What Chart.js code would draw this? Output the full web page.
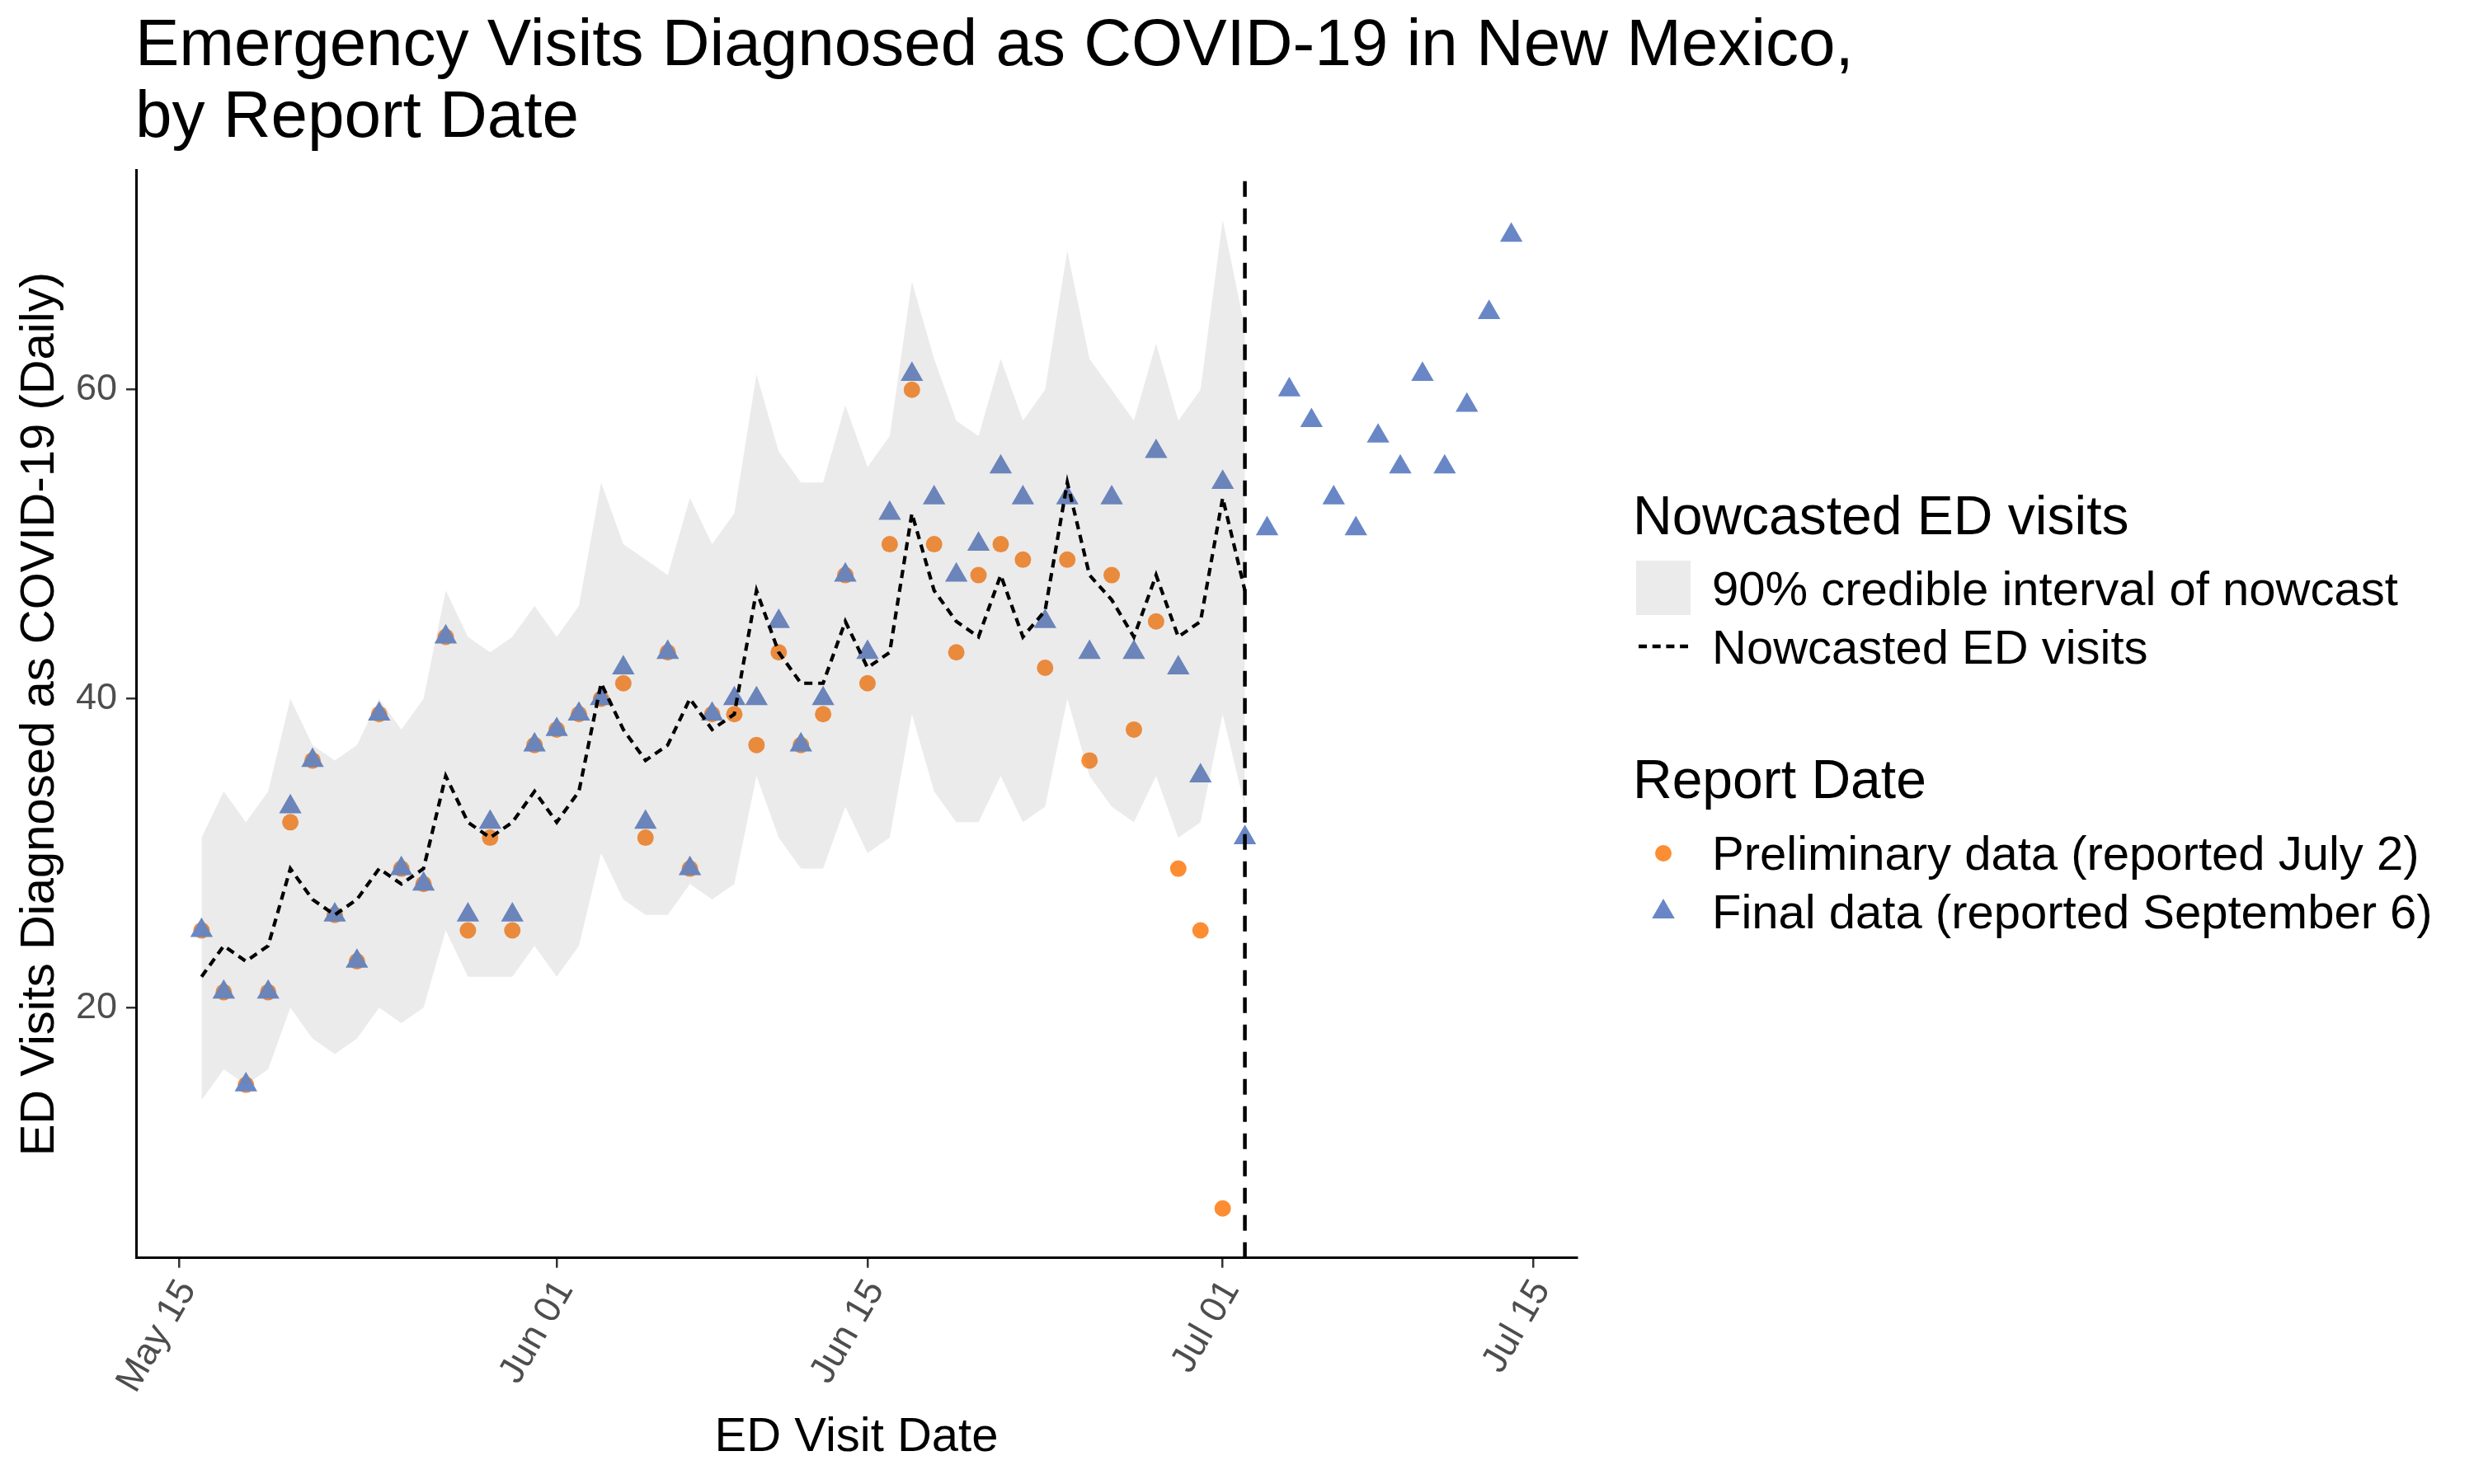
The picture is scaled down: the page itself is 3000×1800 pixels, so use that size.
<!DOCTYPE html>
<html>
<head>
<meta charset="utf-8">
<script src="https://cdn.jsdelivr.net/npm/chart.js@4.4.1/dist/chart.umd.min.js"></script>
<style>
html,body{margin:0;padding:0;background:#fff;}
#wrap{position:relative;width:3000px;height:1800px;overflow:hidden;font-family:"Liberation Sans",Arial,sans-serif;background:#fff;}
#c{position:absolute;left:0;top:0;}
.t{position:absolute;white-space:nowrap;color:#000;line-height:1;}
svg.k{position:absolute;left:0;top:0;overflow:visible;}
</style>
</head>
<body>
<div id="wrap">
<canvas id="c" width="3000" height="1800"></canvas>
<div class="t" style="left:164px;top:9px;font-size:80px;line-height:86.7px;">Emergency Visits Diagnosed as COVID-19 in New Mexico,<br>by Report Date</div>

<div class="t" style="left:1980px;top:591.5px;font-size:66px;">Nowcasted ED visits</div>
<div class="t" style="left:2076px;top:684.6px;font-size:58px;">90% credible interval of nowcast</div>
<div class="t" style="left:2076px;top:756px;font-size:58px;">Nowcasted ED visits</div>
<div class="t" style="left:1980px;top:911.5px;font-size:66px;">Report Date</div>
<div class="t" style="left:2076px;top:1005.7px;font-size:58px;">Preliminary data (reported July 2)</div>
<div class="t" style="left:2076px;top:1076.9px;font-size:58px;">Final data (reported September 6)</div>
<svg class="k" width="3000" height="1800">
  <rect x="1984" y="680" width="66" height="66" fill="#EBEBEB"/>
  <line x1="1987" y1="784" x2="2047" y2="784" stroke="#000" stroke-width="4.5" stroke-dasharray="10 6.7"/>
  <circle cx="2017" cy="1035" r="10" fill="#FD8D33"/>
  <polygon points="2017,1090.1 2030.8,1114 2003.2,1114" fill="#6987C6"/>
</svg>
</div>
<script>
// ---- data ----
const visitDates = [
 '2020-05-16','2020-05-17','2020-05-18','2020-05-19','2020-05-20','2020-05-21','2020-05-22','2020-05-23',
 '2020-05-24','2020-05-25','2020-05-26','2020-05-27','2020-05-28','2020-05-29','2020-05-30','2020-05-31',
 '2020-06-01','2020-06-02','2020-06-03','2020-06-04','2020-06-05','2020-06-06','2020-06-07','2020-06-08',
 '2020-06-09','2020-06-10','2020-06-11','2020-06-12','2020-06-13','2020-06-14','2020-06-15','2020-06-16',
 '2020-06-17','2020-06-18','2020-06-19','2020-06-20','2020-06-21','2020-06-22','2020-06-23','2020-06-24',
 '2020-06-25','2020-06-26','2020-06-27','2020-06-28','2020-06-29','2020-06-30','2020-07-01','2020-07-02',
 '2020-07-03','2020-07-04','2020-07-05','2020-07-06','2020-07-07','2020-07-08','2020-07-09','2020-07-10',
 '2020-07-11','2020-07-12','2020-07-13','2020-07-14'
];
const finalCounts = [25,21,15,21,33,36,26,23,39,29,28,44,26,32,26,37,38,39,40,42,32,43,29,39,40,40,45,37,40,48,
                     43,52,61,53,48,50,55,53,45,53,43,53,43,56,42,35,54,31,51,60,58,53,51,57,55,61,55,59,65,70];
const prelimCounts = [25,21,15,21,32,36,26,23,39,29,28,44,25,31,25,37,38,39,40,41,31,43,29,39,39,37,43,37,39,48,
                      41,50,60,50,43,48,50,49,42,49,36,48,38,45,29,25,7];
const nowcastMedian = [22,24,23,24,29,27,26,27,29,28,29,35,32,31,32,34,32,34,41,38,36,37,40,38,39,47,43,41,41,45,
                       42,43,52,47,45,44,48,44,45.7,54,48,46.4,44,48,44,45,53,47];
const ciUpper = [31,34,32,34,40,37,36,37,40,38,40,47,44,43,44,46,44,46,54,50,49,48,53,50,52,61,56,54,54,59,
                 55,57,67,62,58,57,62,58,60,69,62,60,58,63,58,60,71,64];
const ciLower = [14,16,15,16,20,18,17,18,20,19,20,25,22,22,22,24,22,24,30,27,26,26,28,27,28,35,31,29,29,33,
                 30,31,39,34,32,32,35,32,33,40,35,33,32,35,31,32,39,33];
const reportDate = '2020-07-02';
const originDate = '2020-05-15';
const xTickDates = ['2020-05-15','2020-06-01','2020-06-15','2020-07-01','2020-07-15'];
const xTickLabels = ['May 15','Jun 01','Jun 15','Jul 01','Jul 15'];
const yTickValues = [20,40,60];

// ---- helpers ----
const toDay = d => (Date.parse(d) - Date.parse(originDate)) / 864e5;
const pts = arr => arr.map((v,i) => ({x: toDay(visitDates[i]), y: v}));
const xTickDays = xTickDates.map(toDay);

const allX = visitDates.map(toDay);
const xLo = Math.min(...allX), xHi = Math.max(...allX);
const xPad = (xHi - xLo) * 0.05;
const allY = [].concat(finalCounts, prelimCounts, nowcastMedian, ciUpper, ciLower);
const yLo = Math.min(...allY), yHi = Math.max(...allY);
const yPad = (yHi - yLo) * 0.05;

const FONT = "'Liberation Sans', Arial, sans-serif";
Chart.defaults.font.family = FONT;

const vlinePlugin = {
  id: 'reportLine',
  afterDatasetsDraw(chart) {
    const {ctx, chartArea, scales} = chart;
    const x = scales.x.getPixelForValue(toDay(reportDate));
    ctx.save();
    ctx.strokeStyle = '#000';
    ctx.lineWidth = 4.5;
    ctx.setLineDash([19, 14]);
    ctx.beginPath();
    ctx.moveTo(x, chartArea.bottom);
    ctx.lineTo(x, chartArea.top);
    ctx.stroke();
    ctx.restore();
  }
};

const ribbon = 'rgba(121,121,121,0.15)';
const none = 'rgba(0,0,0,0)';

new Chart(document.getElementById('c'), {
  type: 'scatter',
  data: {
    datasets: [
      {label: 'ci upper', data: pts(ciUpper), showLine: true, fill: '+1', backgroundColor: ribbon,
       borderColor: none, borderWidth: 0, pointRadius: 0, tension: 0, order: 1},
      {label: 'ci lower', data: pts(ciLower), showLine: true, fill: false, backgroundColor: none,
       borderColor: none, borderWidth: 0, pointRadius: 0, tension: 0, order: 1},
      {label: 'Preliminary data (reported July 2)', data: pts(prelimCounts), pointStyle: 'circle',
       pointRadius: 10, pointBackgroundColor: '#FD8D33', pointBorderWidth: 0, pointBorderColor: none, order: 3},
      {label: 'Final data (reported September 6)', data: pts(finalCounts), pointStyle: 'triangle',
       pointRadius: 15.8, pointBackgroundColor: '#6987C6', pointBorderWidth: 0, pointBorderColor: none, order: 2},
      {label: 'Nowcasted ED visits', data: pts(nowcastMedian), showLine: true, fill: false,
       borderColor: '#000', borderWidth: 4.2, borderDash: [10, 7], pointRadius: 0, tension: 0, order: 0}
    ]
  },
  options: {
    responsive: false,
    devicePixelRatio: 1,
    animation: false,
    events: [],
    layout: {padding: {left: 0, top: 206.7, right: 1088, bottom: 0}},
    plugins: {legend: {display: false}, tooltip: {enabled: false}, title: {display: false}},
    scales: {
      x: {
        type: 'linear',
        min: xLo - xPad,
        max: xHi + xPad,
        afterBuildTicks: s => { s.ticks = xTickDays.map(v => ({value: v})); },
        afterFit: s => { s.height = 274.3; },
        ticks: {
          autoSkip: false, minRotation: 60, maxRotation: 60, padding: 6, labelOffset: 10,
          color: '#4D4D4D', font: {family: FONT, size: 45},
          callback: v => { const i = xTickDays.indexOf(v); return i >= 0 ? xTickLabels[i] : ''; }
        },
        grid: {display: true, drawOnChartArea: false, drawTicks: true, tickLength: 12, color: '#333333', lineWidth: 2.5},
        border: {display: true, color: '#000', width: 3},
        title: {display: true, text: 'ED Visit Date', color: '#000', font: {family: FONT, size: 58}, padding: {top: 0, bottom: 21}}
      },
      y: {
        type: 'linear',
        min: yLo - yPad,
        max: yHi + yPad,
        afterBuildTicks: s => { s.ticks = yTickValues.map(v => ({value: v})); },
        afterFit: s => { s.width = 165; },
        ticks: {color: '#4D4D4D', font: {family: FONT, size: 45}, padding: 11},
        grid: {display: true, drawOnChartArea: false, drawTicks: true, tickLength: 12, color: '#333333', lineWidth: 2.5},
        border: {display: true, color: '#000', width: 3},
        title: {display: true, text: 'ED Visits Diagnosed as COVID-19 (Daily)', color: '#000', font: {family: FONT, size: 58}, padding: {top: 14, bottom: 0}}
      }
    }
  },
  plugins: [vlinePlugin]
});
</script>
</body>
</html>
